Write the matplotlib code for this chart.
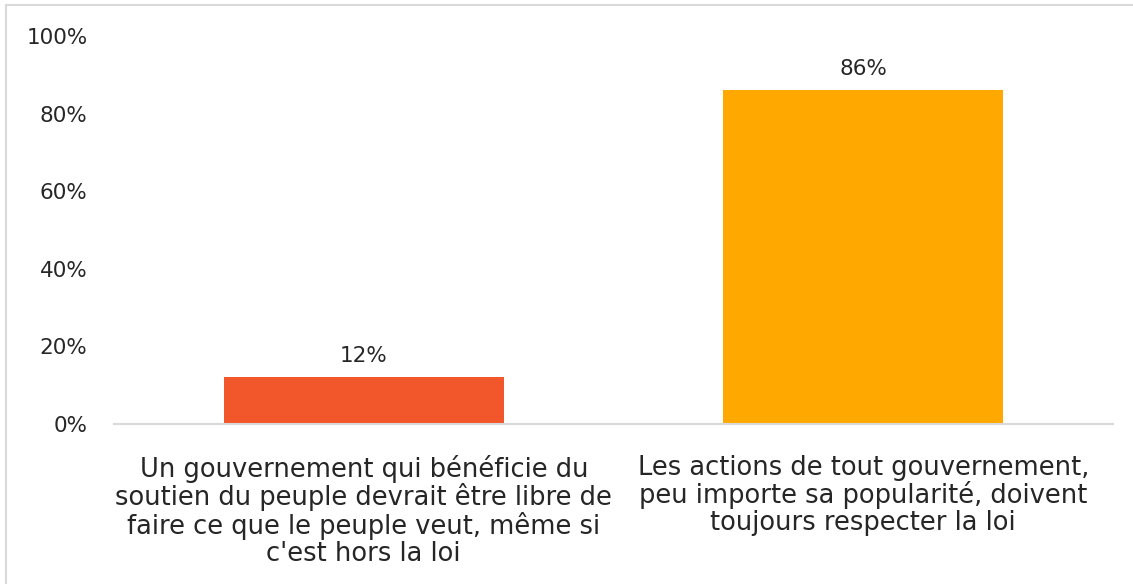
import matplotlib.pyplot as plt
from matplotlib.lines import Line2D
from matplotlib.ticker import PercentFormatter

# Données
categories = [
    "Un gouvernement qui bénéficie du\nsoutien du peuple devrait être libre de\nfaire ce que le peuple veut, même si\nc'est hors la loi",
    "Les actions de tout gouvernement,\npeu importe sa popularité, doivent\ntoujours respecter la loi",
]
valeurs = [0.12, 0.86]
couleurs = ["#F2572B", "#FFA900"]

plt.rcParams['font.family'] = ['DejaVu Sans']

fig = plt.figure(figsize=(11.33, 5.84), dpi=100)
ax = fig.add_axes([114 / 1133, 1 - 424 / 584, 999 / 1133, 388 / 584])

# cadre gris clair (seuls les bords gauche et haut sont visibles)
bx, by = 6 / 1133, 1 - 5 / 584
fig.lines.append(Line2D([bx, bx], [-0.05, by], transform=fig.transFigure, color="#D9D9D9", linewidth=1.5))
fig.lines.append(Line2D([bx, 1.05], [by, by], transform=fig.transFigure, color="#D9D9D9", linewidth=1.5))

x = range(len(categories))
bars = ax.bar(x, valeurs, width=0.56, color=couleurs)

for b, v in zip(bars, valeurs):
    ax.text(b.get_x() + b.get_width() / 2, v + 0.055, f"{round(v * 100)}%",
            ha='center', va='center', fontsize=15.5, color="#262626")

ax.set_xlim(-0.5, 1.5)
ax.set_ylim(0, 1)
ax.yaxis.set_major_formatter(PercentFormatter(1.0, decimals=0))
ax.set_yticks([0, 0.2, 0.4, 0.6, 0.8, 1.0])
ax.set_xticks(list(x))
ax.set_xticklabels(categories, fontsize=18.5, color="#262626", linespacing=1.04)
ax.tick_params(axis='y', labelsize=15.5, labelcolor="#262626", length=0, pad=19)
ax.tick_params(axis='x', length=0, pad=22)

for s in ['top', 'right', 'left']:
    ax.spines[s].set_visible(False)
ax.spines['bottom'].set_color("#D9D9D9")
ax.spines['bottom'].set_linewidth(1.5)

plt.savefig("out.png", dpi=100)
